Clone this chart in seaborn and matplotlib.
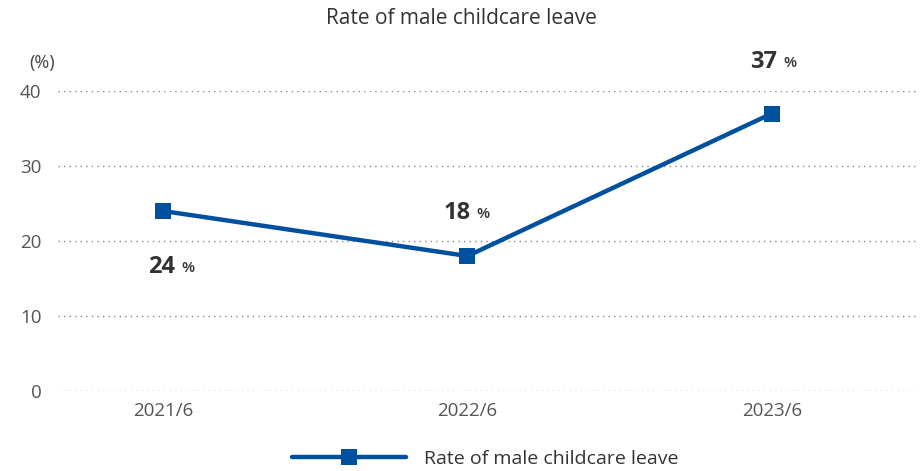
import matplotlib
matplotlib.use("Agg")
import matplotlib.pyplot as plt
import seaborn as sns
import pandas as pd
from matplotlib.lines import Line2D

periods = ["2021/6", "2022/6", "2023/6"]
rates = [24, 18, 37]
series_name = "Rate of male childcare leave"
yticks = [0, 10, 20, 30, 40]

sns.set_theme(style="white")
plt.rcParams['font.family'] = ['Open Sans', 'DejaVu Sans']

df = pd.DataFrame({"period": periods, "rate": rates, "x": range(len(periods))})

fig = plt.figure(figsize=(9.22, 4.71), dpi=100)
ax = fig.add_axes([58/922, (471-391)/471, (918-58)/922, 300/471])

color = "#0050a0"
sns.lineplot(data=df, x="x", y="rate", ax=ax, color=color, linewidth=3.2,
             marker="s", markersize=12, markeredgewidth=0, legend=False)
for l in ax.lines:
    l.set_clip_on(False)

ax.set_xlim(-0.345, 2.48)
ax.set_ylim(0, 40)
ax.set_yticks(yticks)
ax.set_xticks(df["x"])
ax.set_xticklabels(periods)
ax.set_xlabel("")
ax.set_ylabel("")
for s in ax.spines.values():
    s.set_visible(False)
ax.yaxis.grid(True, linestyle=(0, (1, 3)), color="#888888", linewidth=1.0)
ax.xaxis.grid(False)
ax.tick_params(axis="y", length=0, pad=12, labelsize=13.5, labelcolor="#555555")
ax.tick_params(axis="x", length=0, pad=8, labelsize=13.5, labelcolor="#555555")

fig.text(42/922, 1 - 63/471, "(%)", fontsize=13, color="#444444",
         ha="center", va="center")

fig.text(0.5, 1 - 18/471, "Rate of male childcare leave", ha="center", va="center",
         fontsize=15, color="#333333")

# value labels: (digit dx, percent dx, dy) in pixels
label_pos = [(-1, 25, -56), (-10, 15, 43), (-8, 18, 52)]
for (xv, v), (ddx, pdx, dy) in zip(zip(df["x"], rates), label_pos):
    ax.annotate(str(v), xy=(xv, v), xytext=(ddx * 0.72, dy * 0.72),
                textcoords="offset points", ha="center", va="center",
                fontsize=17, fontweight="bold", color="#333333",
                annotation_clip=False)
    ax.annotate("%", xy=(xv, v), xytext=(pdx * 0.72, (dy - 1) * 0.72),
                textcoords="offset points", ha="center", va="center",
                fontsize=11, fontweight="semibold", color="#333333",
                annotation_clip=False)

handle = Line2D([0], [0], color=color, linewidth=3.2, marker="s", markersize=12,
                markeredgewidth=0)
fig.legend([handle], [series_name], loc="center", bbox_to_anchor=(0.526, 1 - 459/471),
           frameon=False, fontsize=14, handlelength=5.9, handletextpad=0.9,
           labelcolor="#333333")

fig.savefig("out.png", dpi=100)
